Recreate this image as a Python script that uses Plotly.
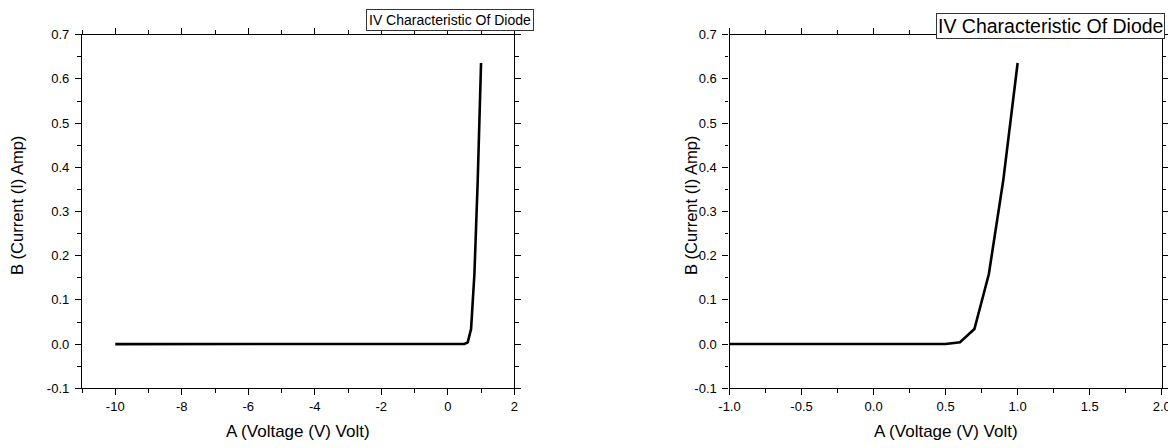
import plotly.graph_objects as go

# Data
voltage = [-10, -8, -6, -4, -2, -1, 0, 0.5, 0.6, 0.7, 0.8, 0.9, 1.0]
current = [0.0, 0.0, 0.0, 0.0, 0.0, 0.0, 0.0, 0.0002, 0.004, 0.034, 0.158, 0.37, 0.636]

x_ticks_left = [-10, -8, -6, -4, -2, 0, 2]
x_labels_left = ["-10", "-8", "-6", "-4", "-2", "0", "2"]
x_ticks_right = [-1.0, -0.5, 0.0, 0.5, 1.0, 1.5, 2.0]
x_labels_right = ["-1.0", "-0.5", "0.0", "0.5", "1.0", "1.5", "2.0"]
y_ticks = [-0.1, 0.0, 0.1, 0.2, 0.3, 0.4, 0.5, 0.6, 0.7]
y_labels = ["-0.1", "0.0", "0.1", "0.2", "0.3", "0.4", "0.5", "0.6", "0.7"]

x_title = "A (Voltage (V) Volt)"
y_title = "B (Current (I) Amp)"
legend_text = "IV Characteristic Of Diode"

# the page body has an 8px margin, so the figure is drawn 8px in from the window edge
OFF = 8
W, H = 1176 - OFF, 448 - 2 * OFF
FONT = "Arial, Liberation Sans, sans-serif"

fig = go.Figure()
fig.add_trace(go.Scatter(x=voltage, y=current, mode="lines",
                         line=dict(color="black", width=2.6),
                         xaxis="x", yaxis="y", showlegend=False))
fig.add_trace(go.Scatter(x=voltage, y=current, mode="lines",
                         line=dict(color="black", width=2.6),
                         xaxis="x2", yaxis="y2", showlegend=False))

def px(x):
    return (x - OFF) / W

def py(y):
    return 1 - (y - OFF) / H

ydom = [py(388.3), py(34.7)]

common = dict(showline=True, linecolor="black", linewidth=1.3, mirror="ticks",
              ticks="outside", ticklen=6, tickwidth=1.3, tickcolor="black",
              showgrid=False, zeroline=False, automargin=False,
              ticklabeloverflow="allow",
              tickfont=dict(family=FONT, size=13, color="black"))
minor = lambda d: dict(dtick=d, ticks="outside", ticklen=3.5, tickwidth=1.3,
                       tickcolor="black", showgrid=False)

fig.update_layout(
    template="none",
    width=W, height=H,
    margin=dict(l=0, r=0, t=0, b=0, pad=0, autoexpand=False),
    paper_bgcolor="white", plot_bgcolor="white",
    font=dict(family=FONT, color="black"),
    showlegend=False,
    xaxis=dict(domain=[px(82), px(514.3)], range=[-11, 2],
               tickmode="array", tickvals=x_ticks_left, ticktext=x_labels_left,
               minor=minor(1), anchor="y", **common),
    yaxis=dict(domain=ydom, range=[-0.1, 0.7],
               tickmode="array", tickvals=y_ticks, ticktext=y_labels,
               minor=minor(0.05), anchor="x", ticklabelstandoff=3, **common),
    xaxis2=dict(domain=[px(729.5), px(1161.7)], range=[-1, 2],
                tickmode="array", tickvals=x_ticks_right, ticktext=x_labels_right,
                minor=minor(0.25), anchor="y2", **common),
    yaxis2=dict(domain=ydom, range=[-0.1, 0.7],
                tickmode="array", tickvals=y_ticks, ticktext=y_labels,
                minor=minor(0.05), anchor="x2", ticklabelstandoff=3, **common),
)

annotations = []
for cx in [(82 + 514.3) / 2, (729.5 + 1161.7) / 2]:
    annotations.append(dict(text=x_title, xref="paper", yref="paper", x=px(cx), y=py(431),
                            xanchor="center", yanchor="middle", showarrow=False,
                            font=dict(family=FONT, size=17, color="black")))
for cx in [17, 691]:
    annotations.append(dict(text=y_title, xref="paper", yref="paper", x=px(cx), y=py(206),
                            xanchor="center", yanchor="middle", showarrow=False, textangle=-90,
                            font=dict(family=FONT, size=16.5, color="black")))
# legend boxes
annotations.append(dict(text=legend_text, xref="paper", yref="paper", x=px(366), y=py(8.5),
                        xanchor="left", yanchor="top", showarrow=False,
                        bordercolor="#333333", borderwidth=1, borderpad=2, bgcolor="white",
                        font=dict(family=FONT, size=14, color="black")))
annotations.append(dict(text=legend_text, xref="paper", yref="paper", x=px(936), y=py(13),
                        xanchor="left", yanchor="top", showarrow=False,
                        bordercolor="#333333", borderwidth=1, borderpad=1, bgcolor="white",
                        font=dict(family=FONT, size=19.5, color="black")))
fig.update_layout(annotations=annotations)

fig.write_html("out.html")
